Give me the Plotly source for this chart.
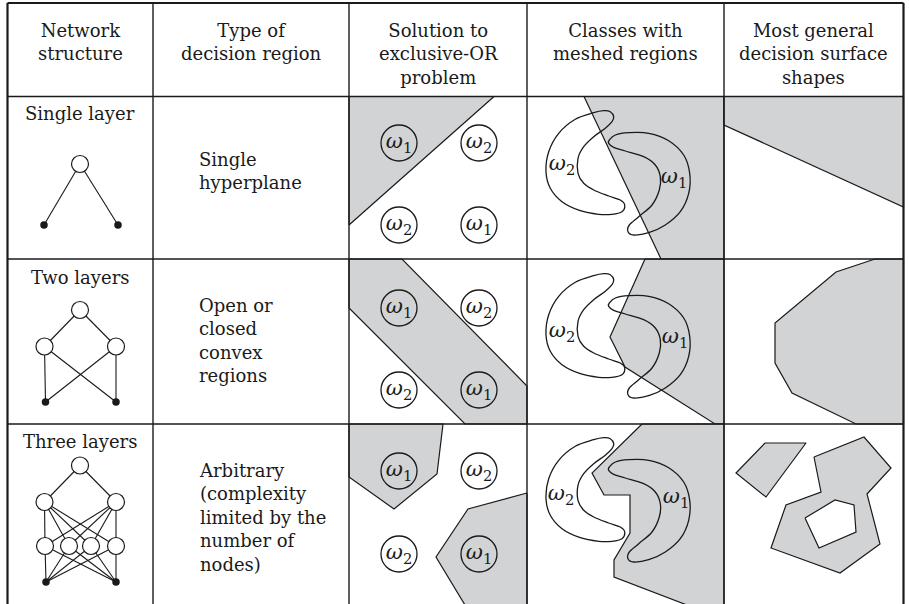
import plotly.graph_objects as go

W, H = 909, 604
FONT = "DejaVu Serif"
FS = 18
OMEGA_FS = 21
GRAY = "#d1d3d4"
INK = "#1a1a1a"

# ---- table grid (pixel units) ----
COL_X = [7.5, 153, 349, 527, 724, 903.5]
ROW_Y = [3, 96.5, 259, 424, 604]

HEADERS = ["Network<br>structure", "Type of<br>decision region",
           "Solution to<br>exclusive-OR<br>problem", "Classes with<br>meshed regions",
           "Most general<br>decision surface<br>shapes"]
HEADER_BASE = 36
ROW_NAMES = ["Single layer", "Two layers", "Three layers"]
ROW_NAME_BASE = [119, 283, 447]
REGION_TYPES = ["Single<br>hyperplane",
                "Open or<br>closed<br>convex<br>regions",
                "Arbitrary<br>(complexity<br>limited by the<br>number of<br>nodes)"]
REGION_BASE = [165, 311, 476]
REGION_X = 197

# ---- network diagrams: layers from output to inputs ----
NET_LAYERS = [
    [[(80, 164)], [(44, 225), (118, 225)]],
    [[(80, 310)], [(44.5, 346.5), (116, 346.5)], [(45.5, 402), (116, 402)]],
    [[(80, 465.5)], [(44.5, 502), (116, 502)],
     [(45, 546), (69, 546), (91, 546), (116, 546)], [(46, 582), (116, 582)]],
]

# ---- XOR column ----
XOR_GRAY = [
    [(349, 96.5), (494, 96.5), (349, 225)],
    [(349, 259), (402, 259), (527, 386), (527, 424), (465, 424), (349, 308)],
    [(349, 424), (443, 424), (437, 474), (394, 509), (349, 477)],
    [(527, 493), (468, 509), (436, 557), (468, 610), (527, 610)],
]
XOR_X = [399, 479]
XOR_Y = [[143, 225], [308, 390], [471, 554]]
XOR_CLASS = [[1, 2], [2, 1]]

# ---- meshed-regions column ----
MESH_GRAY = [
    [(584, 96.5), (724, 96.5), (724, 259), (661, 259)],
    [(645, 259), (724, 259), (724, 424), (715, 424), (625, 367), (610, 337)],
    [(642, 424), (724, 424), (724, 610), (700, 610), (614, 577), (614, 560),
     (630, 533), (630, 495), (604, 495), (592, 473)],
]
OMEGA2_CURVE = [(593.7, 112.7), (603.7, 110.7), (610.3, 111.7), (613.7, 116.7), (612, 121.7),
                (605.3, 128.3), (593.7, 136.7), (583.7, 146.7), (578, 158.3), (578, 173.3),
                (583.7, 183.3), (593.7, 190), (608.7, 196), (620.3, 200), (624.7, 205),
                (622, 211.7), (612, 214.3), (598.7, 214.3), (580.3, 210.7), (562, 201.7),
                (550.3, 188.3), (546, 171.7), (548.7, 151.7), (558.7, 133.3), (575.3, 119.3)]
OMEGA1_CURVE = [(609.3, 140), (615.3, 135), (628.7, 132.7), (648.7, 133.3), (668.7, 140.7),
                (683.7, 155), (689.7, 173.3), (688.7, 193.3), (680.3, 211.7), (665.3, 225),
                (648.7, 232.7), (633.7, 235), (628, 231.7), (629.3, 225), (638.7, 216.7),
                (652, 205), (659.3, 190), (660.3, 176.7), (655.3, 165), (643.7, 156.7),
                (625.3, 151), (613.7, 147.3), (608.7, 143.3)]
CRESCENT_DY = [0, 163, 327]
MESH_LABELS = [[(562, 165), (674, 178)], [(562, 332), (675, 338)], [(561, 495), (676, 498)]]

# ---- general decision surfaces column ----
GEN_GRAY = [
    [(724, 96.5), (903.5, 96.5), (903.5, 207), (724, 125)],
    [(875, 259), (903.5, 259), (903.5, 424), (856, 424), (792, 393), (775, 363),
     (775, 323), (836, 272)],
    [(765, 443), (806, 443), (766, 497), (736, 473)],
    [(814, 457), (864, 437), (891, 468), (867, 494), (880, 544), (840, 573),
     (771, 548), (786, 505), (821, 492)],
]
GEN_HOLE = [(805, 518), (835, 500), (854, 505), (856, 532), (819, 548)]

fig = go.Figure()


def poly(pts, fill):
    xs = [p[0] for p in pts] + [pts[0][0]]
    ys = [p[1] for p in pts] + [pts[0][1]]
    fig.add_trace(go.Scatter(x=xs, y=ys, mode="lines", fill="toself", fillcolor=fill,
                             line=dict(color=INK, width=1.2), hoverinfo="skip"))


for p in XOR_GRAY + MESH_GRAY + GEN_GRAY:
    poly(p, GRAY)
poly(GEN_HOLE, "white")

# network edges
ex, ey = [], []
for layers in NET_LAYERS:
    for a, b in zip(layers[:-1], layers[1:]):
        for p in a:
            for q in b:
                ex += [p[0], q[0], None]
                ey += [p[1], q[1], None]
fig.add_trace(go.Scatter(x=ex, y=ey, mode="lines", line=dict(color=INK, width=1.1),
                         hoverinfo="skip"))

# grid lines
gx, gy = [], []
for x in COL_X[1:-1]:
    gx += [x, x, None]
    gy += [ROW_Y[0], 610, None]
for y in ROW_Y[1:-1]:
    gx += [COL_X[0], COL_X[-1], None]
    gy += [y, y, None]
fig.add_trace(go.Scatter(x=gx, y=gy, mode="lines", line=dict(color=INK, width=1.4),
                         hoverinfo="skip"))
bx = [COL_X[0], COL_X[0], None, COL_X[-1], COL_X[-1], None, COL_X[0], COL_X[-1]]
by = [610, ROW_Y[0], None, ROW_Y[0], 610, None, ROW_Y[0], ROW_Y[0]]
fig.add_trace(go.Scatter(x=bx, y=by, mode="lines", line=dict(color=INK, width=2.2),
                         hoverinfo="skip"))

# network nodes
nx, ny, ix, iy = [], [], [], []
for layers in NET_LAYERS:
    for layer in layers[:-1]:
        for p in layer:
            nx.append(p[0]); ny.append(p[1])
    for p in layers[-1]:
        ix.append(p[0]); iy.append(p[1])
fig.add_trace(go.Scatter(x=nx, y=ny, mode="markers", hoverinfo="skip",
                         marker=dict(size=17, color="white", line=dict(color=INK, width=1.2))))
fig.add_trace(go.Scatter(x=ix, y=iy, mode="markers", hoverinfo="skip",
                         marker=dict(size=7.5, color=INK, line=dict(width=0))))

# XOR class circles
cx, cy, ct = [], [], []
for rows in XOR_Y:
    for r, y in enumerate(rows):
        for c, x in enumerate(XOR_X):
            cx.append(x); cy.append(y)
            ct.append(f"<i>ω</i><sub>{XOR_CLASS[r][c]}</sub>")
fig.add_trace(go.Scatter(x=cx, y=cy, mode="markers+text", text=ct, textposition="middle center",
                         textfont=dict(family=FONT, size=OMEGA_FS, color=INK), hoverinfo="skip",
                         marker=dict(size=36, color="rgba(0,0,0,0)",
                                     line=dict(color=INK, width=1.3))))

# meshed labels
mx, my, mt = [], [], []
for (p2, p1) in MESH_LABELS:
    mx += [p2[0], p1[0]]; my += [p2[1], p1[1]]
    mt += ["<i>ω</i><sub>2</sub>", "<i>ω</i><sub>1</sub>"]
fig.add_trace(go.Scatter(x=mx, y=my, mode="text", text=mt, textposition="middle center",
                         textfont=dict(family=FONT, size=OMEGA_FS, color=INK), hoverinfo="skip"))


def closed_bezier(pts, dy):
    n = len(pts)
    P = [(x, y + dy) for x, y in pts]
    d = f"M {P[0][0]:.2f},{P[0][1]:.2f}"
    for i in range(n):
        p0, p1, p2, p3 = P[i - 1], P[i], P[(i + 1) % n], P[(i + 2) % n]
        c1 = (p1[0] + (p2[0] - p0[0]) / 6, p1[1] + (p2[1] - p0[1]) / 6)
        c2 = (p2[0] - (p3[0] - p1[0]) / 6, p2[1] - (p3[1] - p1[1]) / 6)
        d += f" C {c1[0]:.2f},{c1[1]:.2f} {c2[0]:.2f},{c2[1]:.2f} {p2[0]:.2f},{p2[1]:.2f}"
    return d + " Z"


shapes = []
for dy in CRESCENT_DY:
    for curve in (OMEGA2_CURVE, OMEGA1_CURVE):
        shapes.append(dict(type="path", xref="x", yref="y", path=closed_bezier(curve, dy),
                           line=dict(color=INK, width=1.3), fillcolor="rgba(0,0,0,0)"))

ann = []
ASC = 0.93 * FS + 1
for i, t in enumerate(HEADERS):
    ann.append(dict(x=(COL_X[i] + COL_X[i + 1]) / 2, y=HEADER_BASE - ASC, text=t,
                    xanchor="center", yanchor="top", align="center"))
for i, t in enumerate(ROW_NAMES):
    ann.append(dict(x=(COL_X[0] + COL_X[1]) / 2, y=ROW_NAME_BASE[i] - ASC, text=t,
                    xanchor="center", yanchor="top", align="center"))
for i, t in enumerate(REGION_TYPES):
    ann.append(dict(x=REGION_X, y=REGION_BASE[i] - ASC, text=t,
                    xanchor="left", yanchor="top", align="left"))
for a in ann:
    a.update(xref="x", yref="y", showarrow=False, font=dict(family=FONT, size=FS, color=INK))

fig.update_layout(
    width=W, height=H, margin=dict(l=0, r=0, t=0, b=0),
    paper_bgcolor="white", plot_bgcolor="white", showlegend=False,
    xaxis=dict(range=[0, W], visible=False, fixedrange=True),
    yaxis=dict(range=[H, 0], visible=False, fixedrange=True),
    shapes=shapes, annotations=ann,
)
fig.write_html("out.html", config={"displayModeBar": False},
               post_script="document.body.style.margin='0';document.body.style.overflow='hidden';")
